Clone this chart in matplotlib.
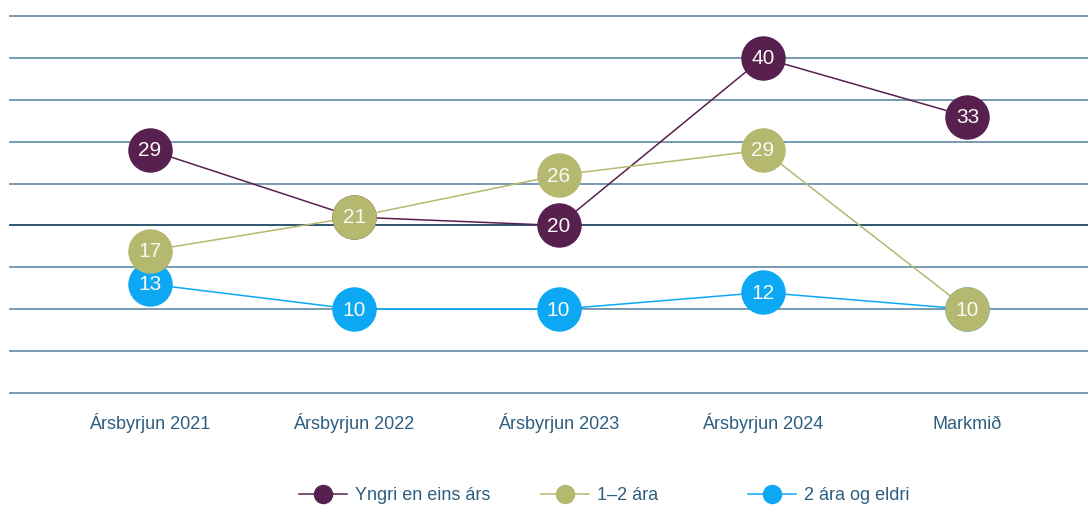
import matplotlib
matplotlib.use("Agg")
import matplotlib.pyplot as plt
from matplotlib.lines import Line2D

categories = ["Ársbyrjun 2021", "Ársbyrjun 2022", "Ársbyrjun 2023", "Ársbyrjun 2024", "Markmið"]
series_names = ["Yngri en eins árs", "1–2 ára", "2 ára og eldri"]
yngri = [29, 21, 20, 40, 33]
ara12 = [17, 21, 26, 29, 10]
eldri = [13, 10, 10, 12, 10]
colors = ["#57204F", "#B5B86F", "#0DA8F4"]
grid_values = [0, 5, 10, 15, 20, 25, 30, 35, 40, 45]

text_color = "#2E5E80"
plt.rcParams['font.family'] = ['Liberation Sans', 'DejaVu Sans']

fig = plt.figure(figsize=(10.88, 5.05), dpi=100)
ax = fig.add_axes([10/1088, 1 - 393/505, 1 - 10/1088, (393 - 16)/505])
ax.set_xlim(-0.683, 4.59)
ax.set_ylim(0, 45)

for g in grid_values:
    c = "#1E4A66" if g == 20 else "#6D92AA"
    ax.axhline(g, color=c, lw=1.3, zorder=1, clip_on=False)

xs = list(range(len(categories)))
order = [(eldri, 2), (yngri, 0), (ara12, 1)]
for k, (vals, ci) in enumerate(order):
    z = 3 + 2 * k
    ax.plot(xs, vals, color=colors[ci], lw=1.1, zorder=2)
    ax.plot(xs, vals, linestyle="none", marker="o", markersize=31,
            markerfacecolor=colors[ci], markeredgecolor=colors[ci], zorder=z)
    for x, v in zip(xs, vals):
        ax.text(x, v - 0.1, f"{v}", color="#FAFAF5", fontsize=15, ha="center", va="center",
                zorder=z + 1)

ax.set_xticks(xs)
ax.set_xticklabels(categories, color=text_color, fontsize=13, va="baseline")
ax.tick_params(axis="x", length=0, pad=26)
ax.set_yticks([])
for s in ax.spines.values():
    s.set_visible(False)

starts = [299, 541, 748]
for ci, name in enumerate(series_names):
    h = Line2D([0], [0], color=colors[ci], lw=1.1, marker="o", markersize=13,
               markerfacecolor=colors[ci], markeredgecolor=colors[ci], label=name)
    leg = fig.legend(handles=[h], loc="center left",
                     bbox_to_anchor=(starts[ci]/1088, 1 - 496/505),
                     frameon=False, fontsize=13, handlelength=2.66,
                     handletextpad=0.45, borderpad=0, borderaxespad=0)
    for t in leg.get_texts():
        t.set_color(text_color)

fig.savefig("out.png", dpi=100)
